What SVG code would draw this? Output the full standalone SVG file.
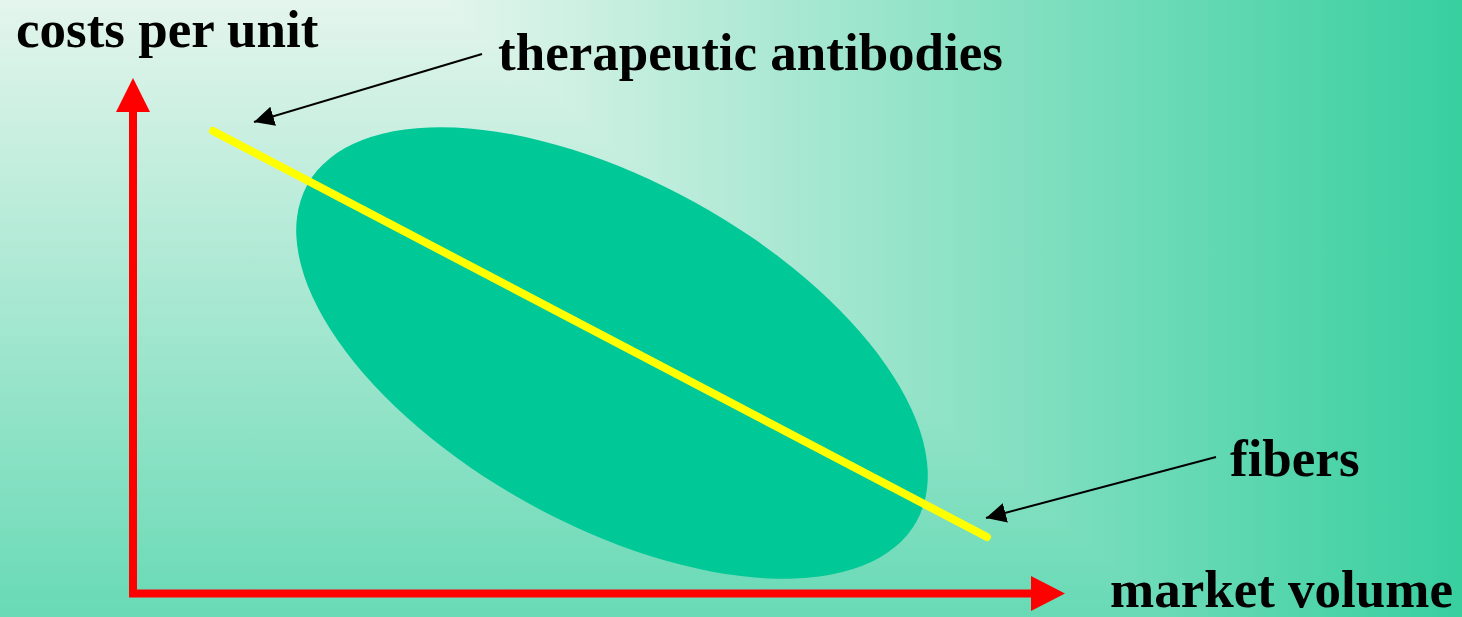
<svg xmlns="http://www.w3.org/2000/svg" width="1462" height="617" viewBox="0 0 1462 617">
  <style>
    .lbl { font-family: "Liberation Serif", "Times New Roman", serif; font-weight: bold; font-size: 53px; fill: #000000; }
    .axis { stroke: #ff0000; stroke-width: 8; fill: none; }
    .axhead { fill: #ff0000; }
    .conn { stroke: #000000; stroke-width: 2; fill: none; }
  </style>
  <defs>
    <linearGradient id="bgH" gradientUnits="userSpaceOnUse" x1="440" y1="0" x2="1462" y2="0">
      <stop offset="0" stop-color="#e4f5ed"/>
      <stop offset="1" stop-color="#38cf9f"/>
    </linearGradient>
    <linearGradient id="bgV" gradientUnits="userSpaceOnUse" x1="0" y1="0" x2="0" y2="858">
      <stop offset="0" stop-color="#e4f5ed"/>
      <stop offset="1" stop-color="#38cf9f"/>
    </linearGradient>
    <marker id="ah" viewBox="0 0 20 20" refX="20" refY="10" markerWidth="20" markerHeight="20" markerUnits="userSpaceOnUse" orient="auto">
      <path d="M0,0 L20,10 L0,20 Z" fill="#000000"/>
    </marker>
  </defs>

  <g id="background">
    <rect x="0" y="0" width="1462" height="617" fill="url(#bgH)"/>
    <polygon points="0,0 440,0 1175.5,617 0,617" fill="url(#bgV)"/>
  </g>

  <g id="cluster">
    <ellipse cx="612" cy="353" rx="348" ry="172" transform="rotate(28.9 612 353)" fill="#00c896"/>
  </g>

  <g id="trend-line">
    <line x1="213" y1="131" x2="987" y2="537" stroke="#ffff00" stroke-width="8" stroke-linecap="round"/>
  </g>

  <g id="axes">
    <g id="y-axis">
      <line class="axis" x1="133" y1="110" x2="133" y2="597"/>
      <polygon class="axhead" points="133,78 150,112 116,112"/>
    </g>
    <g id="x-axis">
      <line class="axis" x1="129" y1="593.5" x2="1033" y2="593.5"/>
      <polygon class="axhead" points="1065,593.5 1031,576 1031,611"/>
    </g>
  </g>

  <g id="labels">
    <g id="label-costs"><text class="lbl" x="16" y="47">costs per unit</text></g>
    <g id="label-antibodies"><text class="lbl" x="498" y="70">therapeutic antibodies</text></g>
    <g id="label-fibers"><text class="lbl" x="1230" y="476">fibers</text></g>
    <g id="label-market"><text class="lbl" x="1110" y="607">market volume</text></g>
  </g>

  <g id="connectors">
    <line class="conn" x1="482" y1="54" x2="254" y2="122" marker-end="url(#ah)"/>
    <line class="conn" x1="1216" y1="457" x2="986" y2="518" marker-end="url(#ah)"/>
  </g>
</svg>
